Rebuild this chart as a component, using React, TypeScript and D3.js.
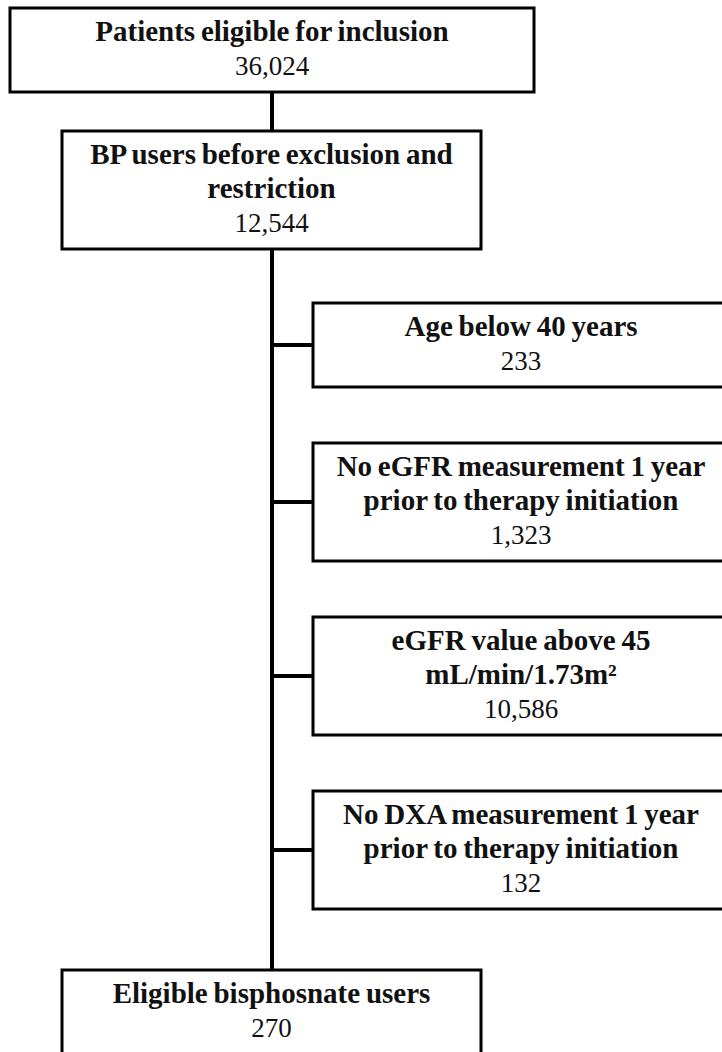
import React, { useEffect, useRef } from 'react';
import * as d3 from 'd3';

// main flow boxes (left column)
const mainLabels = [
  ['Patients eligible for inclusion'],
  ['BP users before exclusion and', 'restriction'],
  ['Eligible bisphosnate users'],
];
const mainCounts = [36024, 12544, 270];

// exclusion boxes (right column)
const exclusionLabels = [
  ['Age below 40 years'],
  ['No eGFR measurement 1 year', 'prior to therapy initiation'],
  ['eGFR value above 45', 'mL/min/1.73m²'],
  ['No DXA measurement 1 year', 'prior to therapy initiation'],
];
const exclusionCounts = [233, 1323, 10586, 132];

export default function App() {
  const svgRef = useRef<SVGSVGElement>(null);

  useEffect(() => {
    const width = 722;
    const height = 1052;
    const lineH = 34;
    const pad = 16;
    const firstBase = 33;
    const fmt = d3.format(',');
    const font = 'Liberation Serif, Times New Roman, serif';

    const svg = d3.select(svgRef.current)
      .attr('width', width)
      .attr('height', height);
    svg.selectAll('*').remove();

    const boxH = (lines: string[]) => (lines.length + 1) * lineH + pad;

    // layout of the left column
    const spineX = 272;
    const mainBoxes = [
      { x: 10, w: 524, y: 8 },
      { x: 62, w: 419, y: 131 },
      { x: 62, w: 419, y: 970 },
    ].map((b, i) => ({ ...b, h: boxH(mainLabels[i]), label: mainLabels[i], count: mainCounts[i] }));

    // layout of the right column, stacked with a fixed gap
    const exX = 313;
    const exW = 416;
    const gap = 56;
    let yy = 303;
    const exBoxes = exclusionLabels.map((label, i) => {
      const b = { x: exX, w: exW, y: yy, h: boxH(label), label, count: exclusionCounts[i] };
      yy += b.h + gap;
      return b;
    });

    // spine
    svg.append('line')
      .attr('x1', spineX).attr('x2', spineX)
      .attr('y1', mainBoxes[0].y + mainBoxes[0].h)
      .attr('y2', mainBoxes[2].y)
      .attr('stroke', '#000')
      .attr('stroke-width', 4);

    // branches
    svg.selectAll('line.branch')
      .data(exBoxes)
      .enter()
      .append('line')
      .attr('class', 'branch')
      .attr('x1', spineX).attr('x2', exX)
      .attr('y1', d => d.y + d.h / 2)
      .attr('y2', d => d.y + d.h / 2)
      .attr('stroke', '#000')
      .attr('stroke-width', 4);

    const all = [...mainBoxes, ...exBoxes];
    const g = svg.selectAll('g.box')
      .data(all)
      .enter()
      .append('g')
      .attr('class', 'box')
      .attr('transform', d => `translate(${d.x},${d.y})`);

    g.append('rect')
      .attr('width', d => d.w)
      .attr('height', d => d.h)
      .attr('fill', '#fff')
      .attr('stroke', '#000')
      .attr('stroke-width', 3);

    g.each(function (d) {
      const t = d3.select(this);
      d.label.forEach((line, j) => {
        t.append('text')
          .attr('x', d.w / 2)
          .attr('y', firstBase + j * lineH)
          .attr('text-anchor', 'middle')
          .attr('font-family', font)
          .attr('font-weight', 'bold')
          .attr('font-size', 29)
          .attr('word-spacing', -1.5)
          .attr('fill', '#111')
          .text(line);
      });
      t.append('text')
        .attr('x', d.w / 2)
        .attr('y', firstBase + d.label.length * lineH)
        .attr('text-anchor', 'middle')
        .attr('font-family', font)
        .attr('font-size', 27)
        .attr('fill', '#111')
        .text(fmt(d.count));
    });
  }, []);

  return (
    <div>
      <svg ref={svgRef} style={{ position: 'absolute', left: 0, top: 0, background: '#fff' }}></svg>
    </div>
  );
}
